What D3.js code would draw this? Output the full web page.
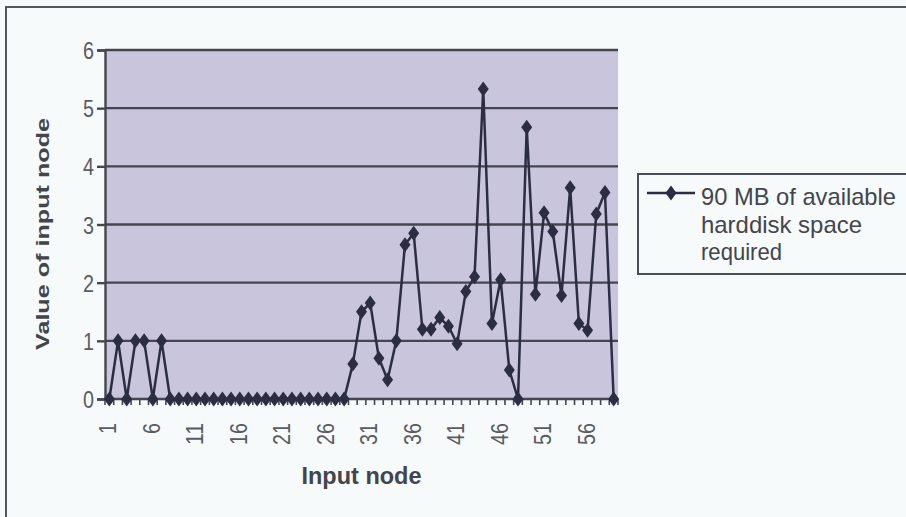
<!DOCTYPE html>
<html>
<head>
<meta charset="utf-8">
<script src="https://cdn.jsdelivr.net/npm/d3@7/dist/d3.min.js"></script>
<style>
  html, body { margin: 0; padding: 0; background: #f6fafb; }
  svg { display: block; }
  text { font-family: "Liberation Sans", Arial, sans-serif; }
</style>
</head>
<body>
<svg id="chart" width="906" height="517"></svg>
<script>
// ---- data ----
const categories = d3.range(1, 60);           // input nodes 1..59
const values = [
  0, 1, 0, 1, 1, 0, 1,
  0, 0, 0, 0, 0, 0, 0, 0, 0, 0, 0, 0, 0, 0, 0, 0, 0, 0, 0, 0, 0,
  0.6, 1.5, 1.65, 0.7, 0.33, 1.0, 2.65, 2.85, 1.2, 1.2, 1.4, 1.25, 0.95,
  1.85, 2.1, 5.33, 1.3, 2.05, 0.5, 0, 4.67, 1.8, 3.2, 2.88, 1.78, 3.63,
  1.3, 1.18, 3.18, 3.55, 0
];
const xTickLabels = [1, 6, 11, 16, 21, 26, 31, 36, 41, 46, 51, 56];
const yTicks = [0, 1, 2, 3, 4, 5, 6];
const seriesName = ["90 MB of available", "harddisk space", "required"];
const xTitle = "Input node";
const yTitle = "Value of input node";

// ---- layout ----
const svg = d3.select("#chart");
const W = 906, H = 517;
const plot = { left: 105, right: 618, top: 50, bottom: 399 };
const dark = "#2b2d42";
const gridCol = "#44464f";

svg.append("rect").attr("width", W).attr("height", H).attr("fill", "#f6fafb");

// outer chart border (left and top visible)
svg.append("path")
  .attr("d", `M6,${H} V7 H${W + 2}`)
  .attr("fill", "none").attr("stroke", "#55575f").attr("stroke-width", 2);

const x = d3.scaleBand().domain(categories).range([plot.left, plot.right]).padding(0);
const y = d3.scaleLinear().domain([0, 6]).range([plot.bottom, plot.top]);
const cx = d => x(d) + x.bandwidth() / 2;

// plot area
svg.append("rect")
  .attr("x", plot.left).attr("y", plot.top)
  .attr("width", plot.right - plot.left).attr("height", plot.bottom - plot.top)
  .attr("fill", "#c8c5dd");

// gridlines
svg.append("g").selectAll("line")
  .data(yTicks.filter(t => t > 0))
  .join("line")
  .attr("x1", plot.left).attr("x2", plot.right)
  .attr("y1", d => y(d)).attr("y2", d => y(d))
  .attr("stroke", gridCol).attr("stroke-width", 2.4);

// y axis
const yAxis = d3.axisLeft(y).tickValues(yTicks).tickSize(8).tickPadding(6).tickFormat(d3.format("d"));
const gy = svg.append("g").attr("transform", `translate(${plot.left},0)`).call(yAxis);
gy.select(".domain").attr("stroke", gridCol).attr("stroke-width", 2.4);
gy.selectAll(".tick line").attr("stroke", gridCol).attr("stroke-width", 2.4);
gy.selectAll(".tick text")
  .attr("font-size", 24).attr("fill", "#5a5c64")
  .attr("x", -11)
  .attr("dy", "0.36em")
  .attr("textLength", 11).attr("lengthAdjust", "spacingAndGlyphs");

// x axis: ticks at category boundaries
const gx = svg.append("g");
gx.append("line")
  .attr("x1", plot.left).attr("x2", plot.right)
  .attr("y1", plot.bottom).attr("y2", plot.bottom)
  .attr("stroke", gridCol).attr("stroke-width", 2.4);
gx.selectAll("line.tk")
  .data(categories.concat([60]))
  .join("line").attr("class", "tk")
  .attr("x1", d => d === 60 ? plot.right : x(d))
  .attr("x2", d => d === 60 ? plot.right : x(d))
  .attr("y1", plot.bottom).attr("y2", plot.bottom + 6)
  .attr("stroke", gridCol).attr("stroke-width", 1.6);
gx.selectAll("text")
  .data(xTickLabels)
  .join("text")
  .attr("transform", d => `translate(${cx(d) + 7},423) rotate(-90)`)
  .attr("text-anchor", "end")
  .attr("font-size", 23).attr("fill", "#5a5c64")
  .attr("textLength", d => String(d).length * 11)
  .attr("lengthAdjust", "spacingAndGlyphs")
  .text(d => d);

// series line
const line = d3.line().x((d, i) => cx(categories[i])).y(d => y(d));
svg.append("path")
  .datum(values)
  .attr("d", line)
  .attr("fill", "none").attr("stroke", dark).attr("stroke-width", 2.5)
  .attr("stroke-linejoin", "round");

// diamond markers
const diamond = "M0,-7.5 L5.5,0 L0,7.5 L-5.5,0 Z";
svg.append("g").selectAll("path")
  .data(values)
  .join("path")
  .attr("transform", (d, i) => `translate(${cx(categories[i])},${y(d)})`)
  .attr("d", diamond)
  .attr("fill", dark);

// axis titles
svg.append("text")
  .attr("transform", `translate(49,234) rotate(-90)`)
  .attr("text-anchor", "middle")
  .attr("font-size", 19).attr("font-weight", "bold").attr("fill", "#43454d")
  .attr("textLength", 232).attr("lengthAdjust", "spacingAndGlyphs")
  .text(yTitle);

svg.append("text")
  .attr("x", (plot.left + plot.right) / 2).attr("y", 484)
  .attr("text-anchor", "middle")
  .attr("font-size", 24).attr("font-weight", "bold").attr("fill", "#43454d")
  .attr("textLength", 120).attr("lengthAdjust", "spacingAndGlyphs")
  .text(xTitle);

// legend
const lg = svg.append("g");
lg.append("rect")
  .attr("x", 638).attr("y", 174).attr("width", 300).attr("height", 100)
  .attr("fill", "#f6fafb").attr("stroke", "#4a4c56").attr("stroke-width", 2);
lg.append("line")
  .attr("x1", 647).attr("x2", 695).attr("y1", 193).attr("y2", 193)
  .attr("stroke", dark).attr("stroke-width", 2.5);
lg.append("path")
  .attr("transform", "translate(671,193)")
  .attr("d", diamond).attr("fill", dark);
const legendLens = [195, 161, 81];
const legendBase = [205, 233, 260];
lg.selectAll("text")
  .data(seriesName)
  .join("text")
  .attr("x", 701).attr("y", (d, i) => legendBase[i])
  .attr("font-size", 24).attr("fill", "#43454d")
  .attr("textLength", (d, i) => legendLens[i]).attr("lengthAdjust", "spacingAndGlyphs")
  .text(d => d);
</script>
</body>
</html>
